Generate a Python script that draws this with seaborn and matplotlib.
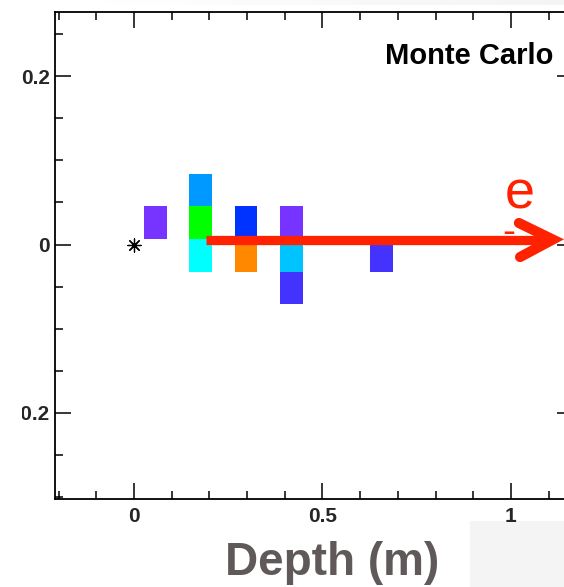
import numpy as np
import matplotlib
matplotlib.use("Agg")
import matplotlib.pyplot as plt
from matplotlib.colors import ListedColormap
from matplotlib.patches import Rectangle
from matplotlib.ticker import MultipleLocator
import seaborn as sns

# ---------------- data ----------------
# energy-deposit cells (depth x transverse position), energy level index
cell_x = [0.057, 0.177, 0.177, 0.177, 0.297, 0.297, 0.417, 0.417, 0.417, 0.657]
cell_y = [0.0256, 0.0641, 0.0256, -0.0131, 0.0256, -0.0131, 0.0256, -0.0131, -0.0518, -0.0131]
cell_energy = [1, 4, 7, 6, 3, 8, 1, 5, 2, 2]
# bin edges of the cell grid
x_edges = [0.027 + 0.06 * k for k in range(12)]
y_edges = [0.0065 + 0.0387 * k for k in range(-2, 3)]
# palette ordered by energy level
level_colors = ["#7733ff", "#4433ff", "#0033ff", "#0099ff",
                "#00c4ff", "#00ffff", "#00ff00", "#ff8800"]
# interaction vertex
vertex_x = [0.0]
vertex_y = [0.0]
# incoming particle arrow
arrow_shaft_x = [0.191, 1.10]
arrow_shaft_y = [0.0048, 0.0048]
arrow_head_x = [1.021, 1.111, 1.024]
arrow_head_y = [0.0256, 0.0059, -0.0149]

x_ticks = [0, 0.5, 1]
x_ticklabels = ["0", "0.5", "1"]
y_ticks = [-0.2, 0, 0.2]
y_ticklabels = ["\u22120.2", "0", "0.2"]

# ---------------- figure ----------------
sns.set_style("ticks")
plt.rcParams["font.family"] = ["Liberation Sans", "DejaVu Sans"]

W, H = 564, 587
fig = plt.figure(figsize=(W / 100, H / 100), dpi=100)
fig.patch.set_facecolor("white")

left_px, right_px, top_px, bottom_px = 54.7, 573.0, 12.3, 499.0
ax = fig.add_axes([left_px / W, 1 - bottom_px / H,
                   (right_px - left_px) / W, (bottom_px - top_px) / H])

cmap = ListedColormap(level_colors)
sns.histplot(x=cell_x, y=cell_y, weights=cell_energy,
             bins=(np.array(x_edges), np.array(y_edges)),
             cmap=cmap, vmin=0.5, vmax=len(level_colors) + 0.5,
             ax=ax, zorder=2)

# vertex marker
sns.scatterplot(x=vertex_x, y=vertex_y, marker=(8, 2, 0), s=90,
                color="black", linewidth=0.9, ax=ax, zorder=3)
sns.scatterplot(x=vertex_x, y=vertex_y, marker="o", s=5,
                color="black", linewidth=0, ax=ax, zorder=3)

# arrow for the incoming electron
red = "#ff2200"
ax.plot(arrow_shaft_x, arrow_shaft_y, color=red, lw=6.7,
        solid_capstyle="butt", zorder=4)
ax.plot(arrow_head_x, arrow_head_y, color=red, lw=7.3,
        solid_capstyle="round", solid_joinstyle="miter", zorder=4)

ax.set_xlim(-0.2103, 1.1645)
ax.set_ylim(-0.3026, 0.2761)
ax.set_xlabel("")
ax.set_ylabel("")
ax.grid(False)

# ticks
ax.set_xticks(x_ticks, x_ticklabels, fontsize=15, fontweight="bold")
ax.set_yticks(y_ticks, y_ticklabels, fontsize=15, fontweight="bold")
ax.xaxis.set_minor_locator(MultipleLocator(0.1))
ax.yaxis.set_minor_locator(MultipleLocator(0.05))
ax.tick_params(which="both", direction="in", top=True, right=True,
               width=1.1, color="black")
ax.tick_params(which="major", length=11.5)
ax.tick_params(which="minor", length=5.7)
ax.tick_params(axis="x", which="major", pad=5.5)
ax.tick_params(axis="y", which="major", pad=3.5)
for name, sp in ax.spines.items():
    sp.set_visible(name != "right")
    sp.set_linewidth(1.3)
    sp.set_color("black")

# texts
fig.text(553 / W, 1 - 64 / H, "Monte Carlo", ha="right", va="baseline",
         fontsize=21, fontweight="bold", color="black")
fig.text(519.5 / W, 1 - 209 / H, "e", ha="center", va="baseline",
         fontsize=39, color=red)
fig.text(509 / W, 1 - 243 / H, "-", ha="center", va="baseline",
         fontsize=28, color=red)
fig.text(332.5 / W, 1 - 575 / H, "Depth (m)", ha="center", va="baseline",
         fontsize=33, fontweight="bold", color="#605959")

# slide background pieces around the cropped plot
fig.patches.append(Rectangle((470 / W, 0), (W - 470) / W, (H - 521) / H,
                             transform=fig.transFigure, facecolor="#f4f4f4",
                             edgecolor="none", zorder=-1))
fig.patches.append(Rectangle((0, 0), 21.5 / W, 1, transform=fig.transFigure,
                             facecolor="white", edgecolor="none", zorder=5))
gax = fig.add_axes([85 / W, 1 - 5 / H, (W - 85) / W, 5 / H])
grad = np.linspace(0.0, 0.09, 200)[None, :]
gax.imshow(grad, aspect="auto", cmap="Greys", vmin=0, vmax=1)
gax.set_axis_off()

fig.savefig("out.png", dpi=100, facecolor="white")
